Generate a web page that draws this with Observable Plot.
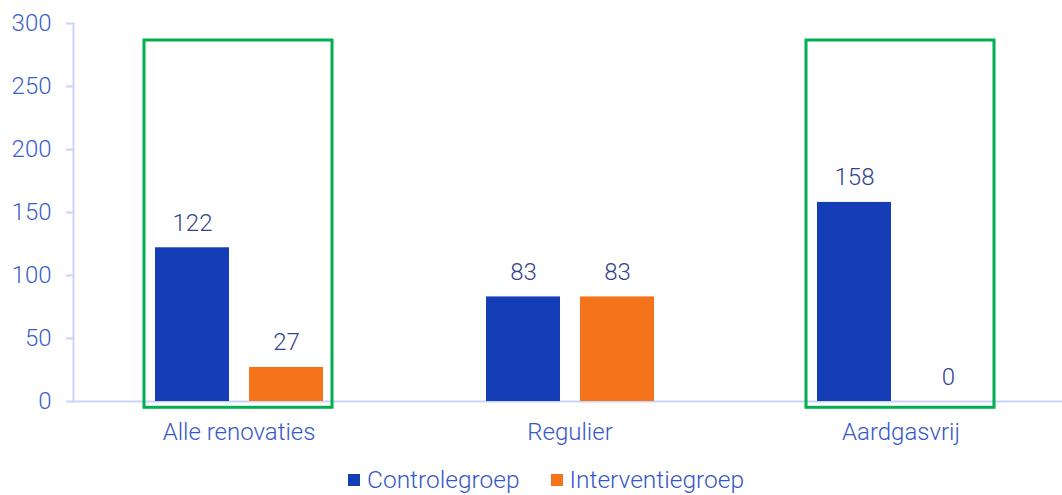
<!DOCTYPE html>
<html>
<head>
<meta charset="utf-8">
<script src="https://cdn.jsdelivr.net/npm/d3@7"></script>
<script src="https://cdn.jsdelivr.net/npm/@observablehq/plot@0.6"></script>
<style>
  html, body { margin: 0; padding: 0; background: #fff; }
  body { width: 1062px; height: 495px; overflow: hidden; font-family: Roboto, "Noto Sans", sans-serif; }
  #legend { display: flex; justify-content: flex-start; padding-left: 348px; gap: 31px; margin-top: 12px; line-height: 26px; }
  .item { display: flex; align-items: center; font-size: 24.5px; font-weight: 300; color: #3558c8; white-space: nowrap; }
  .sw { width: 12px; height: 12px; margin-right: 7px; }
</style>
</head>
<body>
<div id="chart"></div>
<div id="legend"></div>
<script>
const categories = ["Alle renovaties", "Regulier", "Aardgasvrij"];
const groups = ["Controlegroep", "Interventiegroep"];
const controle = [122, 83, 158];
const interventie = [27, 83, 0];
const highlighted = ["Alle renovaties", "Aardgasvrij"];
const yTicks = [0, 50, 100, 150, 200, 250, 300];
const colors = ["#153db5", "#f4731b"];

const rows = categories.flatMap((c, i) => [
  {category: c, group: groups[0], value: controle[i]},
  {category: c, group: groups[1], value: interventie[i]}
]);
const boxes = highlighted.map((c) => ({category: c, low: -5, high: 286.5}));

const chart = Plot.plot({
  width: 1067,
  height: 455,
  marginLeft: 72,
  marginRight: 0,
  marginTop: 23,
  marginBottom: 54,
  style: {fontFamily: "Roboto, 'Noto Sans', sans-serif", fontWeight: 300, background: "#fff", overflow: "visible", maxWidth: "none"},
  fx: {domain: categories, padding: 0, label: null},
  x: {domain: groups, paddingInner: 0.213, paddingOuter: 0.862, axis: null},
  y: {domain: [0, 300], ticks: yTicks, label: null},
  color: {domain: groups, range: colors},
  marks: [
    Plot.frame({anchor: "left", facetAnchor: "left", stroke: "#c9d5f5", strokeWidth: 2}),
    Plot.ruleY([0], {stroke: "#c9d5f5", strokeWidth: 2}),
    Plot.axisY({ticks: yTicks, tickSize: 7, tickPadding: 15, stroke: "#c9d5f5", strokeWidth: 2, fill: "#3a5fcd", fontSize: 24, label: null}),
    Plot.axisFx({anchor: "bottom", tickSize: 0, tickPadding: 21, fill: "#3558c8", fontSize: 24, label: null}),
    Plot.barY(rows, {fx: "category", x: "group", y: "value", fill: "group"}),
    Plot.text(rows, {fx: "category", x: "group", y: "value", text: (d) => String(d.value), lineAnchor: "bottom", dy: -17, fill: "#2f4590", fontSize: 24, fontWeight: 300}),
    Plot.rect(boxes, {fx: "category", y1: "low", y2: "high", fill: "none", stroke: "#00b050", strokeWidth: 3, insetLeft: 71, insetRight: 72})
  ]
});
document.getElementById("chart").appendChild(chart);

const legend = d3.select("#legend");
groups.forEach((g, i) => {
  const item = legend.append("div").attr("class", "item");
  item.append("div").attr("class", "sw").style("background", colors[i]);
  item.append("span").text(g);
});
</script>
</body>
</html>
